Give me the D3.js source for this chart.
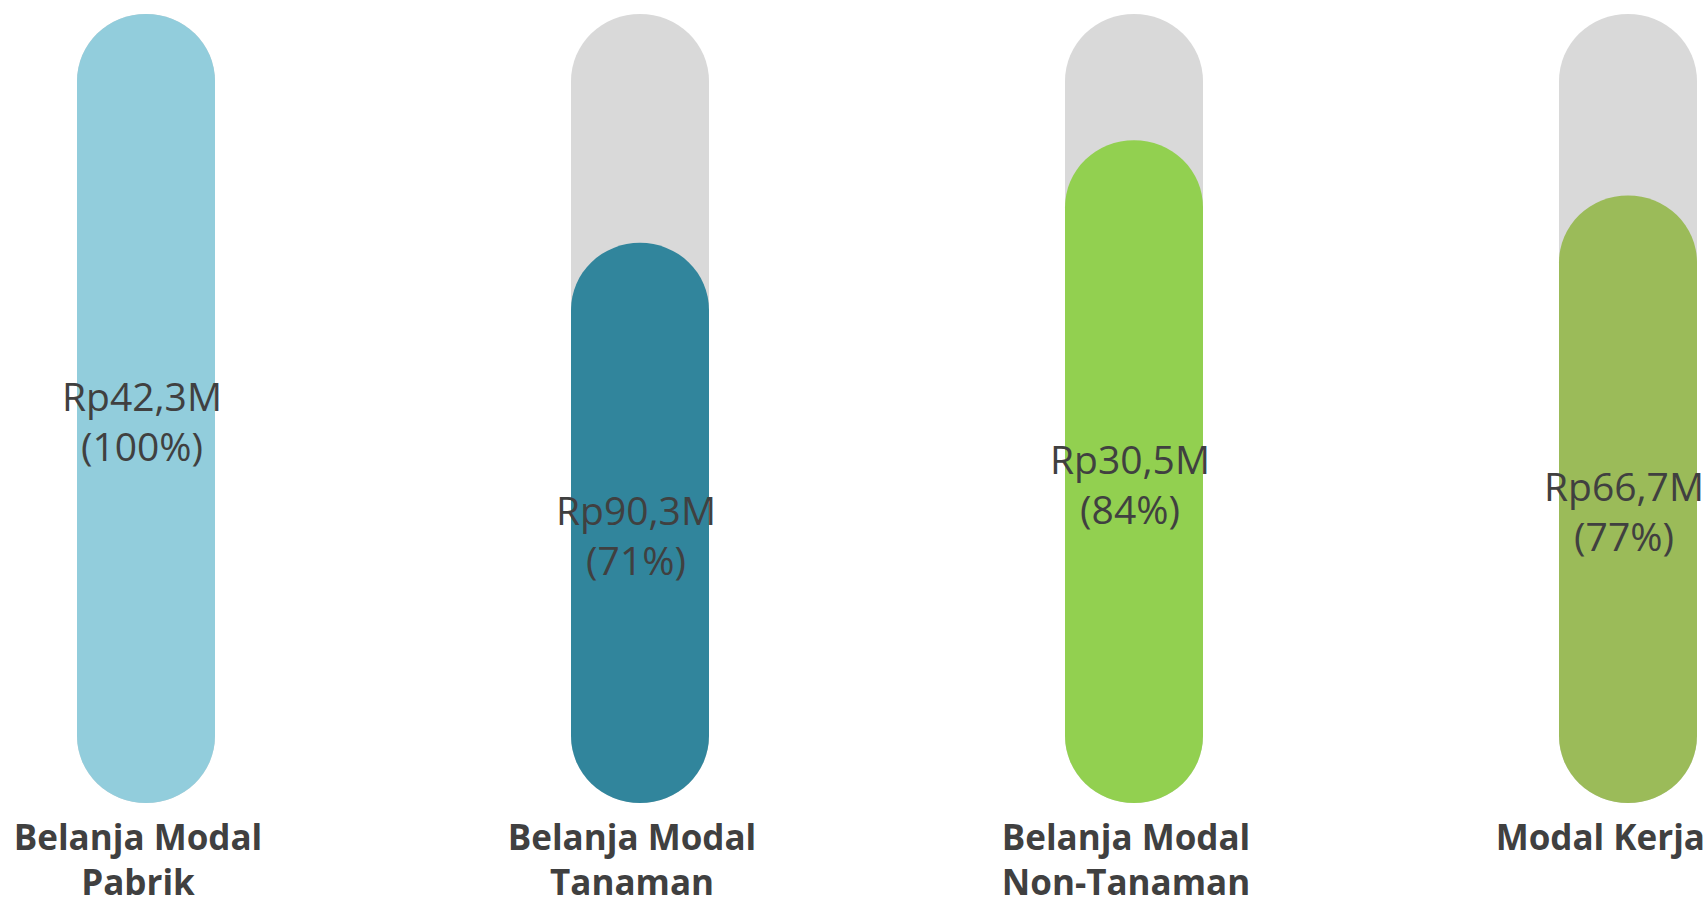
<!DOCTYPE html>
<html>
<head>
<meta charset="utf-8">
<script src="https://cdn.jsdelivr.net/npm/d3@7"></script>
<style>
  html, body { margin: 0; padding: 0; background: #ffffff; overflow: hidden; }
  svg { display: block; }
</style>
</head>
<body>
<svg id="chart" width="1708" height="906"></svg>
<script>
// ---- data ----
const categories = ["Belanja Modal Pabrik", "Belanja Modal Tanaman", "Belanja Modal Non-Tanaman", "Modal Kerja"];
const categoryLines = [["Belanja Modal", "Pabrik"], ["Belanja Modal", "Tanaman"], ["Belanja Modal", "Non-Tanaman"], ["Modal Kerja"]];
const amounts = [42.3, 90.3, 30.5, 66.7];      // Rp ... M
const percents = [100, 71, 84, 77];            // realisasi (%)
const colors = ["#92CDDC", "#31859C", "#92D050", "#9BBB59"];

// ---- layout ----
const W = 1708, H = 906;
const trackTop = 14, trackBottom = 803;
const barW = 138, capRy = 67;
const trackColor = "#D9D9D9";
const textColor = "#404040";

const svg = d3.select("#chart");

const x = d3.scalePoint().domain(categories).range([146, 1628]);
const y = d3.scaleLinear().domain([0, 100]).range([trackBottom, trackTop]);

const data = categories.map((c, i) => ({
  cat: c, lines: categoryLines[i], amount: amounts[i], pct: percents[i], color: colors[i]
}));

const fmt = v => "Rp" + d3.format(".1f")(v).replace(".", ",") + "M";

const g = svg.append("g");

// background tracks
g.selectAll("rect.track").data(data).join("rect")
  .attr("class", "track")
  .attr("x", d => x(d.cat) - barW / 2)
  .attr("y", y(100))
  .attr("width", barW)
  .attr("height", y(0) - y(100))
  .attr("rx", barW / 2).attr("ry", capRy)
  .attr("fill", trackColor);

// filled bars
g.selectAll("rect.fill").data(data).join("rect")
  .attr("class", "fill")
  .attr("x", d => x(d.cat) - barW / 2)
  .attr("y", d => y(d.pct))
  .attr("width", barW)
  .attr("height", d => y(0) - y(d.pct))
  .attr("rx", barW / 2).attr("ry", capRy)
  .attr("fill", d => d.color);

// keep a text inside the canvas horizontally
function clampX(sel, cx) {
  sel.each(function (d) {
    const b = this.getBBox();
    let dx = 0;
    if (cx(d) + b.x + b.width > W - 3) dx = (W - 3) - (cx(d) + b.x + b.width);
    if (cx(d) + b.x + dx < 3) dx = 3 - (cx(d) + b.x);
    d3.select(this).attr("data-dx", dx);
  });
}

// value labels
const vl = g.selectAll("text.val").data(data).join("text")
  .attr("class", "val")
  .attr("text-anchor", "middle")
  .attr("font-family", "'Open Sans', sans-serif")
  .attr("font-size", 39)
  .attr("fill", textColor);
vl.append("tspan").attr("x", 0).attr("y", 0).text(d => fmt(d.amount));
vl.append("tspan").attr("x", 0).attr("y", 50).text(d => "(" + d.pct + "%)");
const vx = d => x(d.cat) - 4;
clampX(vl, vx);
vl.attr("transform", function (d) {
  const dx = +this.getAttribute("data-dx");
  return `translate(${vx(d) + dx},${(y(d.pct) + y(0)) / 2 + 2})`;
});

// category labels
const cl = g.selectAll("text.cat").data(data).join("text")
  .attr("class", "cat")
  .attr("text-anchor", "middle")
  .attr("font-family", "'Open Sans', sans-serif")
  .attr("font-weight", 700)
  .attr("font-size", 35)
  .attr("fill", textColor);
cl.selectAll("tspan").data(d => d.lines).join("tspan")
  .attr("x", 0)
  .attr("y", (l, i) => i * 45)
  .text(l => l);
const cx = d => x(d.cat) - 8;
clampX(cl, cx);
cl.attr("transform", function (d) {
  const dx = +this.getAttribute("data-dx");
  return `translate(${cx(d) + dx},850)`;
});
</script>
</body>
</html>
